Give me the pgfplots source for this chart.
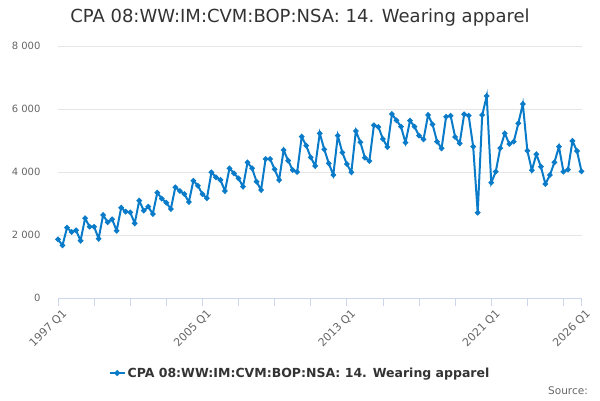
\documentclass[border=0pt]{standalone}
\usepackage{pgfplots}
\pgfplotsset{compat=1.18}
\usepackage{fontspec}
\setmainfont{DejaVu Sans}
\definecolor{series}{HTML}{0A7BC8}
\definecolor{axisline}{HTML}{CCD6EB}
\definecolor{gridc}{HTML}{E6E6E6}
\definecolor{ticktext}{HTML}{666666}
\definecolor{titletext}{HTML}{333333}
\begin{document}
\begin{tikzpicture}
\useasboundingbox (0pt,0pt) rectangle (600pt,400pt);
\begin{axis}[
  at={(58pt,102pt)}, anchor=south west,
  scale only axis, width=523.5pt, height=252pt,
  xmin=0, xmax=116, ymin=0, ymax=8000,
  /pgf/number format/assume math mode=true,
  axis x line*=bottom, axis y line*=left,
  y axis line style={draw=none},
  x axis line style={draw=axisline, line width=0.8pt, -},
  ytick={0,2000,4000,6000,8000},
  yticklabels={0,2 000,4 000,6 000,8 000},
  ytick style={draw=none},
  yticklabel style={font=\fontsize{10}{12}\selectfont, text=ticktext, xshift=-6pt},
  ymajorgrids, grid style={gridc, line width=0.8pt},
  xtick={0,32,64,96,116},
  xticklabels={1997 Q1,2005 Q1,2013 Q1,2021 Q1,2026 Q1},
  minor xtick={8,16,24,40,48,56,72,80,88,104,112},
  tick align=outside,
  major tick length=8pt, minor tick length=8pt,
  xtick style={draw=axisline, line width=0.8pt},
  minor x tick style={draw=axisline, line width=0.8pt},
  xmajorgrids=false, xminorgrids=false,
  xticklabel style={font=\fontsize{11}{13}\selectfont, text=ticktext, rotate=45, anchor=north east, inner sep=1pt, xshift=2pt, yshift=-3pt},
  clip=false,
  legend style={at={(0.4623,-0.298)}, anchor=center, draw=none, fill=none,
    font=\bfseries\fontsize{12.5}{14}\selectfont, text=titletext},
  legend image code/.code={
    \draw[series, line width=2pt] (0pt,0pt) -- (15pt,0pt);
    \fill[series] (7.5pt,0pt) circle (1.8pt);
  },
]
\addplot[series, line width=2pt, mark=*, mark size=1.6pt, mark options={fill=series, draw=series}] table {
x y
0 1862
1 1672
2 2233
3 2095
4 2149
5 1820
6 2530
7 2264
8 2264
9 1883
10 2635
11 2403
12 2498
13 2137
14 2867
15 2740
16 2720
17 2372
18 3090
19 2772
20 2899
21 2667
22 3343
23 3153
24 3026
25 2826
26 3515
27 3397
28 3302
29 3048
30 3724
31 3566
32 3297
33 3165
34 3990
35 3832
36 3747
37 3397
38 4118
39 3959
40 3800
41 3534
42 4307
43 4118
44 3693
45 3429
46 4413
47 4413
48 4086
49 3747
50 4699
51 4360
52 4064
53 4000
54 5122
55 4836
56 4466
57 4191
58 5228
59 4720
60 4275
61 3905
62 5154
63 4620
64 4255
65 3990
66 5302
67 4943
68 4455
69 4350
70 5483
71 5429
72 5048
73 4794
74 5842
75 5641
76 5440
77 4932
78 5630
79 5440
80 5154
81 5037
82 5810
83 5513
84 4963
85 4751
86 5757
87 5789
88 5112
89 4910
90 5831
91 5789
92 4805
93 2708
94 5810
95 6413
96 3660
97 4010
98 4760
99 5228
100 4890
101 4963
102 5546
103 6160
104 4677
105 4054
106 4562
107 4170
108 3620
109 3905
110 4307
111 4805
112 4010
113 4074
114 4985
115 4667
116 4022
};
\addlegendentry{CPA 08:WW:IM:CVM:BOP:NSA: 14. Wearing apparel}
\end{axis}
\node[font=\fontsize{18}{21}\selectfont, text=titletext] at (300pt,382pt) {CPA 08:WW:IM:CVM:BOP:NSA: 14. Wearing apparel};
\node[font=\fontsize{10.5}{12}\selectfont, text=ticktext, anchor=east, inner sep=0pt] at (588pt,9pt) {Source:};
\end{tikzpicture}
\end{document}
